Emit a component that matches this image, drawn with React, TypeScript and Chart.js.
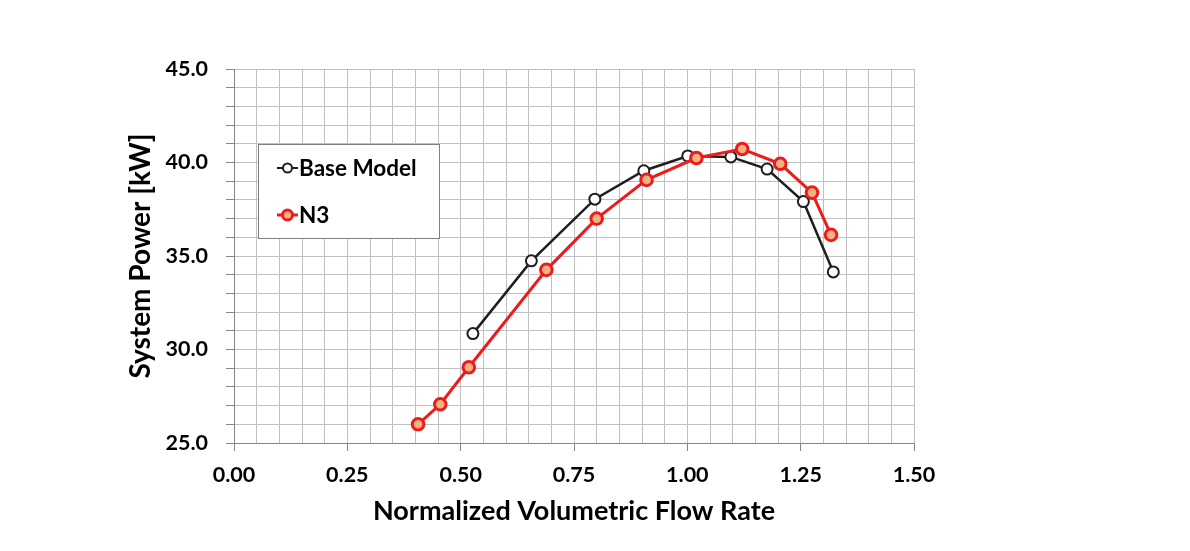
import React, { useEffect, useRef } from "react";
import { Chart, registerables } from "chart.js";

Chart.register(...registerables);

// ---- data ----
const seriesNames = ["Base Model", "N3"];
const baseX = [0.527, 0.656, 0.796, 0.904, 1.001, 1.096, 1.176, 1.256, 1.322];
const baseY = [30.85, 34.74, 38.04, 39.56, 40.35, 40.3, 39.65, 37.91, 34.15];
const n3X = [0.406, 0.455, 0.518, 0.689, 0.8, 0.91, 1.02, 1.121, 1.205, 1.275, 1.317];
const n3Y = [26.0, 27.07, 29.05, 34.26, 37.0, 39.07, 40.24, 40.72, 39.93, 38.39, 36.13];
const xTickLabels = ["0.00", "0.25", "0.50", "0.75", "1.00", "1.25", "1.50"];
const yTickLabels = ["25.0", "30.0", "35.0", "40.0", "45.0"];
const xTitle = "Normalized Volumetric Flow Rate";
const yTitle = "System Power [kW]";

const FONT = "Lato, 'Open Sans', sans-serif";
const RED = "#ec1c1c";
const ORANGE = "#f4b183";
const BLACK = "#1e1e1e";

const isMajorX = (v: number) => Math.abs(v / 0.25 - Math.round(v / 0.25)) < 1e-6;
const isMajorY = (v: number) => Math.abs(v / 5 - Math.round(v / 5)) < 1e-6;

const legendPlugin = {
  id: "boxLegend",
  afterDraw(chart: any) {
    const { ctx, chartArea } = chart;
    const x0 = chartArea.left + 24;
    const y0 = chartArea.top + 75;
    const w = 181;
    const h = 94;
    ctx.save();
    ctx.fillStyle = "#ffffff";
    ctx.fillRect(x0, y0, w, h);
    ctx.strokeStyle = "#7f7f7f";
    ctx.lineWidth = 1;
    ctx.strokeRect(x0 + 0.5, y0 + 0.5, w, h);
    const rows = [
      { name: seriesNames[0], y: y0 + 24, line: BLACK, lw: 2, fill: "#ffffff", stroke: BLACK, r: 4.5, bw: 2 },
      { name: seriesNames[1], y: y0 + 71, line: RED, lw: 3, fill: ORANGE, stroke: RED, r: 5, bw: 3 },
    ];
    for (const r of rows) {
      ctx.strokeStyle = r.line;
      ctx.lineWidth = r.lw;
      ctx.beginPath();
      ctx.moveTo(x0 + 19, r.y);
      ctx.lineTo(x0 + 40, r.y);
      ctx.stroke();
      ctx.beginPath();
      ctx.arc(x0 + 29.5, r.y, r.r, 0, Math.PI * 2);
      ctx.fillStyle = r.fill;
      ctx.fill();
      ctx.lineWidth = r.bw;
      ctx.strokeStyle = r.stroke;
      ctx.stroke();
      ctx.fillStyle = "#000000";
      ctx.font = `bold 22.5px ${FONT}`;
      ctx.textBaseline = "middle";
      ctx.textAlign = "left";
      ctx.fillText(r.name, x0 + 41, r.y + 1);
    }
    ctx.restore();
  },
};

export default function App() {
  const ref = useRef<HTMLCanvasElement | null>(null);

  useEffect(() => {
    if (!ref.current) return;
    const chart = new Chart(ref.current, {
      type: "line",
      data: {
        datasets: [
          {
            label: seriesNames[0],
            data: baseX.map((x, i) => ({ x, y: baseY[i] })),
            borderColor: BLACK,
            borderWidth: 2.5,
            pointRadius: 5.5,
            pointBorderWidth: 2,
            pointBackgroundColor: "#ffffff",
            pointBorderColor: BLACK,
            tension: 0,
            order: 1,
          },
          {
            label: seriesNames[1],
            data: n3X.map((x, i) => ({ x, y: n3Y[i] })),
            borderColor: RED,
            borderWidth: 3,
            pointRadius: 5.8,
            pointBorderWidth: 3,
            pointBackgroundColor: ORANGE,
            pointBorderColor: RED,
            tension: 0,
            order: 0,
          },
        ],
      },
      options: {
        responsive: false,
        animation: false,
        layout: { padding: { left: 120, top: 69, right: 276, bottom: 20 } },
        plugins: { legend: { display: false }, tooltip: { enabled: false } },
        scales: {
          x: {
            type: "linear",
            min: 0,
            max: 1.5,
            afterFit: (s: any) => {
              s.height = 88;
            },
            ticks: {
              stepSize: 0.05,
              autoSkip: false,
              maxRotation: 0,
              padding: 11,
              color: "#000",
              font: { family: FONT, size: 21.5, weight: "bold" },
              callback: (v: any) => (isMajorX(Number(v)) ? xTickLabels[Math.round(Number(v) / 0.25)] : ""),
            },
            grid: {
              color: "#c0c0c0",
              lineWidth: 1,
              tickLength: 8,
              tickColor: (c: any) => (c.tick && isMajorX(c.tick.value) ? "#868686" : "rgba(0,0,0,0)"),
            },
            border: { color: "#868686", width: 1 },
            title: {
              display: true,
              text: xTitle,
              color: "#000",
              font: { family: FONT, size: 27, weight: "bold" },
            },
          },
          y: {
            type: "linear",
            min: 25,
            max: 45,
            afterFit: (s: any) => {
              s.width = 114;
            },
            ticks: {
              stepSize: 1,
              autoSkip: false,
              padding: 18,
              color: "#000",
              font: { family: FONT, size: 21.5, weight: "bold" },
              callback: (v: any) => (isMajorY(Number(v)) ? yTickLabels[Math.round((Number(v) - 25) / 5)] : ""),
            },
            grid: {
              color: "#c0c0c0",
              lineWidth: 1,
              tickLength: 8,
              tickColor: "#868686",
            },
            border: { color: "#868686", width: 1 },
            title: {
              display: true,
              text: yTitle,
              color: "#000",
              font: { family: FONT, size: 28, weight: "bold" },
            },
          },
        },
      },
      plugins: [legendPlugin],
    });
    return () => chart.destroy();
  }, []);

  return (
    <div style={{ position: "fixed", left: 0, top: 0, width: 1190, height: 551, background: "#fff" }}>
      <canvas ref={ref} width={1190} height={551} />
    </div>
  );
}
